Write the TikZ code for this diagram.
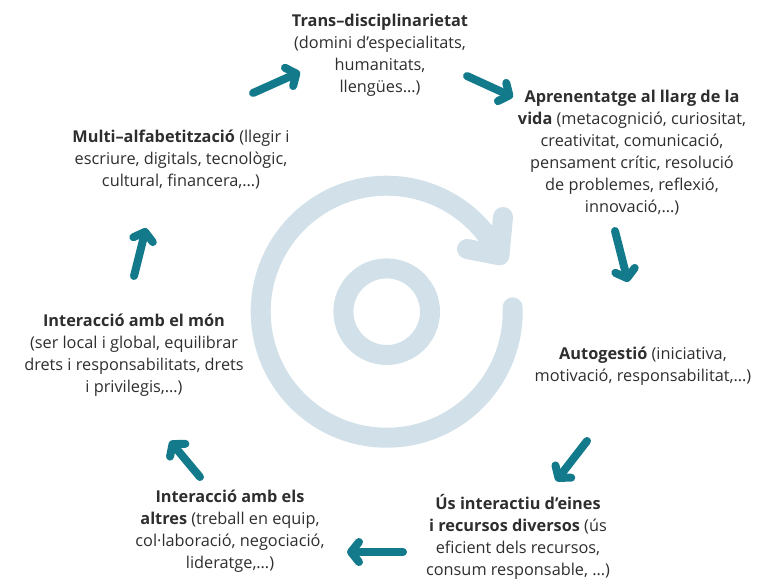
\documentclass[tikz,border=0pt]{standalone}
\usepackage{fontspec}
\setmainfont{Open Sans}
\usetikzlibrary{arrows.meta}
\definecolor{tealarrow}{HTML}{127A8A}
\definecolor{ringblue}{HTML}{D2E1E9}
\definecolor{textgrey}{HTML}{2E2E2E}
\tikzset{%
	item/.style     = {align=center, inner sep=0pt, text=textgrey,
		font=\fontsize{16.3}{22}\selectfont},
	flow/.style     = {line width=8pt, line cap=round, tealarrow,
		-{Straight Barb[round,length=8pt,width=20pt]}}, % small arrows
	loopring/.style = {line width=20pt, ringblue} % central icon
}

\begin{document}
\begin{tikzpicture}[x=1pt,y=1pt]
			\useasboundingbox (0,0) rectangle (759,-582);
			\coordinate (hub) at (386.7,-311.7);

			% central cycle icon
			\draw[loopring] (hub) circle[radius=43.3];
			\draw[loopring,line cap=round] (hub) ++(2:126) arc[start angle=2, end angle=-333.4, radius=126];
			\draw[loopring,line cap=round,line join=round] (503,-217) -- (499.4,-255.3) -- (467,-249);

			\node[item] (trans) at (380,-55) {\textbf{Trans–disciplinarietat}\\(domini d’especialitats,\\humanitats,\\llengües…)};
			\node[item] (apren) at (632,-153) {\textbf{Aprenentatge al llarg de la}\\\textbf{vida} (metacognició, curiositat,\\creativitat, comunicació,\\pensament crític, resolució\\de problemes, reflexió,\\innovació,…)};
			\node[item] (autog) at (643,-366) {\textbf{Autogestió} (iniciativa,\\motivació, responsabilitat,…)};
			\node[item] (eines) at (518,-537) {\textbf{Ús interactiu d’eines}\\\textbf{i recursos diversos} (ús\\eficient dels recursos,\\consum responsable, …)};
			\node[item] (altres) at (230,-531) {\textbf{Interacció amb els}\\\textbf{altres} (treball en equip,\\col·laboració, negociació,\\lideratge,…)};
			\node[item] (mon) at (134,-355) {\textbf{Interacció amb el món}\\(ser local i global, equilibrar\\drets i responsabilitats, drets\\i privilegis,…)};
			\node[item] (multi) at (181,-160) {\textbf{Multi–alfabetització} (llegir i\\escriure, digitals, tecnològic,\\cultural, financera,…)};

			% arrow ends
			\coordinate (multi-out) at (253,-93);  \coordinate (trans-in) at (300,-72);
			\coordinate (trans-out) at (467,-76);  \coordinate (apren-in) at (513,-97);
			\coordinate (apren-out) at (615,-231); \coordinate (autog-in) at (628,-282);
			\coordinate (autog-out) at (587,-441); \coordinate (eines-in) at (556,-481);
			\coordinate (eines-out) at (403,-552); \coordinate (altres-in) at (347,-552);
			\coordinate (altres-out) at (200,-477);\coordinate (mon-in) at (170,-441);
			\coordinate (mon-out) at (134,-276);   \coordinate (multi-in) at (146,-228);

			\draw[flow] (multi-out) -- (trans-in);
			\draw[flow] (trans-out) -- (apren-in);
			\draw[flow] (apren-out) -- (autog-in);
			\draw[flow] (autog-out) -- (eines-in);
			\draw[flow] (eines-out) -- (altres-in);
			\draw[flow] (altres-out) -- (mon-in);
			\draw[flow] (mon-out) -- (multi-in);
		\end{tikzpicture}
\end{document}
